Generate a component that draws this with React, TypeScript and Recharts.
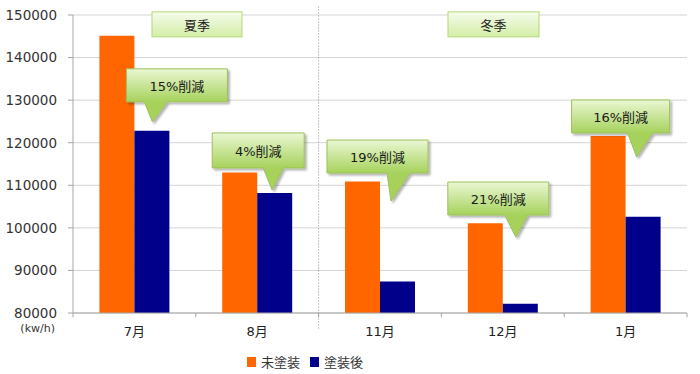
import React from 'react';
import {
  BarChart,
  Bar,
  XAxis,
  YAxis,
  CartesianGrid,
  Legend,
  ReferenceDot,
  ReferenceLine,
} from 'recharts';

// ---- data ----
const MONTHS = ['7月', '8月', '11月', '12月', '1月'];
const UNCOATED = [145100, 113000, 110900, 101100, 121600];
const COATED = [122800, 108200, 87400, 82200, 102600];
const Y_TICKS = [80000, 90000, 100000, 110000, 120000, 130000, 140000, 150000];
const SERIES_NAMES = ['未塗装', '塗装後'];

const CALLOUT_MONTHS = ['7月', '8月', '11月', '12月', '1月'];
const CALLOUT_TEXTS = ['15%削減', '4%削減', '19%削減', '21%削減', '16%削減'];
const CALLOUT_TIP_VALUES = [124900, 108900, 106300, 97850, 116650];

const SEASON_MONTHS = ['7月', '12月'];
const SEASON_TEXTS = ['夏季', '冬季'];
const SEASON_VALUE = 147800;

// ---- layout / style ----
const CALLOUT_GEOM = [
  { tipDx: 18, left: -26, w: 101, top: -53, h: 33, b0: -8, b1: 15 },
  { tipDx: 15, left: -60, w: 92, top: -57, h: 35, b0: -9, b1: 11 },
  { tipDx: 11, left: -64, w: 101, top: -61, h: 33, b0: -4, b1: 19 },
  { tipDx: 13, left: -68, w: 101, top: -55, h: 33, b0: -11, b1: 12 },
  { tipDx: 11, left: -65, w: 98, top: -57, h: 33, b0: -9, b1: 16 },
];
const SEASON_GEOM = [
  { dx: 62.6, w: 90, h: 25 },
  { dx: -9.3, w: 91, h: 25 },
];

const FONT = "'DejaVu Sans', 'Noto Sans CJK JP', sans-serif";
const ORANGE = '#FF6600';
const NAVY = '#00008B';
const AXIS = '#a6a6a6';
const GRID = '#d4d4d4';

const data = MONTHS.map((m, i) => ({
  month: m,
  uncoated: UNCOATED[i],
  coated: COATED[i],
}));

const makeCallout = (i: number) => (props: any) => {
  const { cx, cy } = props;
  const g = CALLOUT_GEOM[i];
  const tx = cx + g.tipDx;
  const ty = cy;
  const x0 = tx + g.left;
  const x1 = x0 + g.w;
  const y0 = ty + g.top;
  const y1 = y0 + g.h;
  const d = `M ${x0} ${y0} H ${x1} V ${y1} H ${tx + g.b1} L ${tx} ${ty} L ${tx + g.b0} ${y1} H ${x0} Z`;
  const gid = `callGrad${i}`;
  const fid = `callShadow${i}`;
  return (
    <g>
      <defs>
        <linearGradient id={gid} gradientUnits="userSpaceOnUse" x1={0} y1={y0} x2={0} y2={y1}>
          <stop offset="0%" stopColor="#eaf7d3" />
          <stop offset="100%" stopColor="#a6d25c" />
        </linearGradient>
        <filter id={fid} x="-20%" y="-20%" width="140%" height="160%">
          <feDropShadow dx={2} dy={2} stdDeviation={1.3} floodColor="#000" floodOpacity={0.3} />
        </filter>
      </defs>
      <path d={d} fill={`url(#${gid})`} stroke="#9dc05c" strokeWidth={1} filter={`url(#${fid})`} />
      <text
        x={(x0 + x1) / 2}
        y={(y0 + y1) / 2 + 1}
        textAnchor="middle"
        dominantBaseline="central"
        fontSize={13}
        fontFamily={FONT}
        fill="#1a1a1a"
      >
        {CALLOUT_TEXTS[i]}
      </text>
    </g>
  );
};

const makeSeason = (i: number) => (props: any) => {
  const { cx, cy } = props;
  const g = SEASON_GEOM[i];
  const mx = cx + g.dx;
  const x0 = mx - g.w / 2;
  const y0 = cy - g.h / 2;
  const gid = `seasonGrad${i}`;
  return (
    <g>
      <defs>
        <linearGradient id={gid} x1={0} y1={0} x2={0} y2={1}>
          <stop offset="0%" stopColor="#f6fcec" />
          <stop offset="100%" stopColor="#d3eda6" />
        </linearGradient>
      </defs>
      <rect x={x0} y={y0} width={g.w} height={g.h} fill={`url(#${gid})`} stroke="#b4d67c" strokeWidth={1} />
      <text
        x={mx}
        y={cy + 1}
        textAnchor="middle"
        dominantBaseline="central"
        fontSize={13}
        fontFamily={FONT}
        fill="#222"
      >
        {SEASON_TEXTS[i]}
      </text>
    </g>
  );
};

const UnitLabel = (props: any) => {
  const vb = props.viewBox || {};
  const x = (vb.x || 0) + (vb.width || 0) - 18;
  const y = (vb.y || 0) + (vb.height || 0) + 19;
  return (
    <text x={x} y={y} textAnchor="end" fontSize={11} fontFamily={FONT} fill="#333">
      (kw/h)
    </text>
  );
};

const LegendContent = () => (
  <div
    style={{
      display: 'flex',
      alignItems: 'center',
      fontFamily: FONT,
      fontSize: 13,
      color: '#333',
      whiteSpace: 'nowrap',
    }}
  >
    <span style={{ display: 'inline-block', width: 9, height: 10, background: ORANGE, marginRight: 5 }} />
    <span>{SERIES_NAMES[0]}</span>
    <span
      style={{ display: 'inline-block', width: 9, height: 10, background: NAVY, marginLeft: 10, marginRight: 5 }}
    />
    <span>{SERIES_NAMES[1]}</span>
  </div>
);

export default function App() {
  return (
    <div style={{ position: 'absolute', left: 0, top: 0, width: 700, height: 374, background: '#fff' }}>
      <BarChart
        width={700}
        height={374}
        data={data}
        margin={{ top: 15, right: 13, left: 0, bottom: 0 }}
        barCategoryGap={26.4}
        barGap={0}
        style={{ fontFamily: FONT }}
      >
        <CartesianGrid vertical={false} stroke={GRID} />
        <XAxis
          dataKey="month"
          height={61}
          tickLine={false}
          tickSize={0}
          tickMargin={14}
          axisLine={{ stroke: AXIS }}
          tick={{ fill: '#222', fontSize: 13, fontFamily: FONT }}
          interval={0}
        />
        <YAxis
          width={73}
          domain={[80000, 150000]}
          ticks={Y_TICKS}
          interval={0}
          allowDataOverflow
          tickSize={5}
          tickMargin={11}
          axisLine={{ stroke: AXIS }}
          tickLine={{ stroke: AXIS }}
          tick={{ fill: '#333', fontSize: 13.5, fontFamily: FONT }}
          label={<UnitLabel />}
        />
        <Legend
          verticalAlign="middle"
          align="center"
          layout="horizontal"
          content={<LegendContent />}
          wrapperStyle={{ top: 352, left: 247, width: 'auto', height: 'auto' }}
        />
        <Bar dataKey="uncoated" name={SERIES_NAMES[0]} fill={ORANGE} isAnimationActive={false} />
        <Bar dataKey="coated" name={SERIES_NAMES[1]} fill={NAVY} isAnimationActive={false} />

        {MONTHS.map((m) => (
          <ReferenceLine
            key={`tick-${m}`}
            segment={[
              { x: m, y: 80000 },
              { x: m, y: 79000 },
            ]}
            position="start"
            stroke={AXIS}
            ifOverflow="visible"
          />
        ))}
        <ReferenceLine
          segment={[
            { x: MONTHS[MONTHS.length - 1], y: 80000 },
            { x: MONTHS[MONTHS.length - 1], y: 79000 },
          ]}
          position="end"
          stroke={AXIS}
          ifOverflow="visible"
        />
        <ReferenceLine
          segment={[
            { x: '11月', y: 152000 },
            { x: '11月', y: 76000 },
          ]}
          position="start"
          stroke="#8c8c8c"
          strokeDasharray="1 2"
          ifOverflow="visible"
        />

        {SEASON_MONTHS.map((m, i) => (
          <ReferenceDot
            key={`season-${i}`}
            x={m}
            y={SEASON_VALUE}
            r={1}
            ifOverflow="visible"
            shape={makeSeason(i)}
          />
        ))}
        {CALLOUT_MONTHS.map((m, i) => (
          <ReferenceDot
            key={`callout-${i}`}
            x={m}
            y={CALLOUT_TIP_VALUES[i]}
            r={1}
            ifOverflow="visible"
            shape={makeCallout(i)}
          />
        ))}
      </BarChart>
    </div>
  );
}
